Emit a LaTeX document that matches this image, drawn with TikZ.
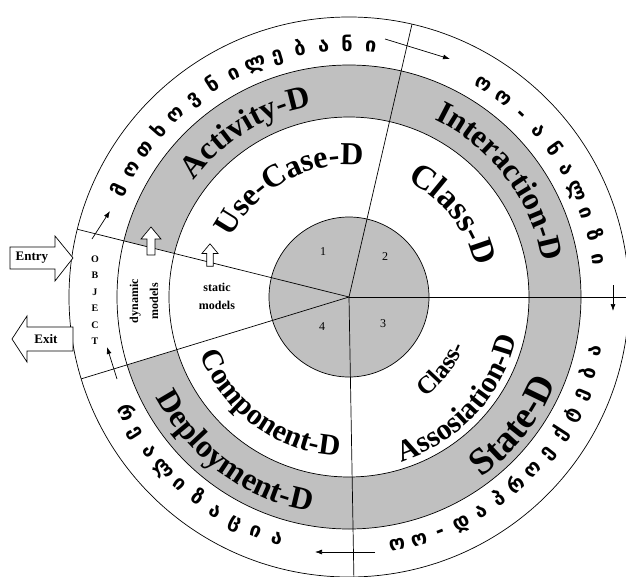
\documentclass[tikz,border=0pt]{standalone}
\usepackage{fontspec}
\setmainfont{Liberation Serif}
\newfontfamily\geofont{DejaVu Sans}
\usetikzlibrary{decorations.text,arrows.meta}
\definecolor{ringgray}{RGB}{192,192,192}
\newcommand{\LfA}{\bfseries\fontsize{32}{36}\selectfont}
\newcommand{\LfB}{\bfseries\fontsize{30}{34}\selectfont}
\newcommand{\LfC}{\bfseries\fontsize{38}{42}\selectfont}
\newcommand{\LfD}{\bfseries\fontsize{25}{30}\selectfont}
\newcommand{\LfE}{\bfseries\fontsize{34}{38}\selectfont}
\newcommand{\geoarc}[6]{%
  \foreach \ch [count=\i from 0] in {#6} {%
    \pgfmathsetmacro\ang{#2+\i*(#3)}%
    \node[geo, rotate=\ang#5, anchor=base] (#1-\i) at (\ang:#4) {\ch};%
  }}
\begin{document}
\begin{tikzpicture}[x=1pt,y=1pt,
  ln/.style={line width=0.7pt},
  geo/.style={font=\geofont\bfseries\fontsize{20}{22}\selectfont, inner sep=0pt},
  num/.style={font=\fontsize{12}{14}\selectfont, inner sep=1pt},
  small/.style={font=\bfseries\fontsize{12}{20}\selectfont, align=center, inner sep=0pt},
  arr/.style={ln, -{Latex[length=7pt,width=5pt]}},
  uparrow/.pic={\draw[ln,fill=white] (-4,-14) -- (4,-14) -- (4,2) -- (10,2) -- (0,14) -- (-10,2) -- (-4,2) -- cycle;}
]
\useasboundingbox (-349,-279) rectangle (277,297);
\clip (-349,-279) rectangle (277,297);
\fill[white] (-349,-279) rectangle (277,297);

% rings
\draw[ln, fill=white] (0,0) circle[radius=280pt];
\fill[ringgray, even odd rule] (0,0) circle[radius=232pt] (0,0) circle[radius=180pt];
\fill[white] (166:180pt) -- (166:232pt) arc[start angle=166, end angle=197, radius=232pt]
  -- (197:180pt) arc[start angle=197, end angle=166, radius=180pt] -- cycle;
\draw[ln] (0,0) circle[radius=232pt];
\draw[ln] (0,0) circle[radius=180pt];
\draw[ln, fill=ringgray] (0,0) circle[radius=80pt];

% radial lines
\coordinate (O) at (0,0);
\coordinate (rT) at (77:280pt);
\coordinate (rR) at (0:300pt);
\coordinate (rB) at (-89:300pt);
\coordinate (rLa) at (166:280pt);
\coordinate (rLb) at (197:280pt);
\draw[ln] (O) -- (rT);
\draw[ln] (O) -- (rR);
\draw[ln] (O) -- (rB);
\draw[ln] (O) -- (rLa);
\draw[ln] (O) -- (rLb);

% numbers
\node[num] (n1) at (-26,45) {1};
\node[num] (n2) at (36,40) {2};
\node[num] (n3) at (34,-27) {3};
\node[num] (n4) at (-27,-30) {4};

% English labels, top (clockwise)
\path[decorate, decoration={text along path, text align=center, text={|\LfA|Activity-D}}]
  (182:194pt) arc[start angle=182, end angle=62, radius=194pt];
\path[decorate, decoration={text along path, text align=center, text={|\LfA|Interaction-D}}]
  (107.3:197pt) arc[start angle=107.3, end angle=-32.7, radius=197pt];
\path[decorate, decoration={text along path, text align=center, text={|\LfA|Use-Case-D}}]
  (198.5:132pt) arc[start angle=198.5, end angle=38.5, radius=132pt];
\path[decorate, decoration={text along path, text align=center, text={|\LfE|Class-D}}]
  (98.5:130pt) arc[start angle=98.5, end angle=-21.5, radius=130pt];
% English labels, bottom (counter-clockwise)
\path[decorate, decoration={text along path, text align=center, text={|\LfC|State-D}}]
  (-88:224pt) arc[start angle=-88, end angle=12, radius=224pt];
\path[decorate, decoration={text along path, text align=center, text={|\LfA|Deployment-D}}]
  (163.7:218pt) arc[start angle=163.7, end angle=303.7, radius=218pt];
\path[decorate, decoration={text along path, text align=center, text={|\LfB|Component-D}}]
  (153.8:159.5pt) arc[start angle=153.8, end angle=313.8, radius=159.5pt];
\path[decorate, decoration={text along path, text align=center, text={|\LfD|Class-}}]
  (-88:126pt) arc[start angle=-88, end angle=12, radius=126pt];
\path[decorate, decoration={text along path, text align=center, text={|\LfB|Assosiation-D}}]
  (-118:173pt) arc[start angle=-118, end angle=32, radius=173pt];

% Georgian labels in outer ring
\geoarc{gtl}{155}{-5.38}{246pt}{-90}{მ,ო,თ,ხ,ო,ვ,ნ,ი,ლ,ე,ბ,ა,ნ,ი}
\geoarc{gtr}{57.6}{-5.44}{246pt}{-90}{ო,ო,-,ა,ნ,ა,ლ,ი,ზ,ი}
\geoarc{gbr}{-79}{5.12}{258pt}{+90}{ო,ო,-,დ,ა,პ,რ,ო,ე,ქ,ტ,ე,ბ,ა}
\geoarc{gbl}{207.4}{5.11}{258pt}{+90}{რ,ე,ა,ლ,ი,ზ,ა,ც,ი,ა}

% left sector texts
\node[font=\bfseries\fontsize{10}{16.5}\selectfont, align=center, inner sep=0pt] (obj) at (-254,-3) {O\\B\\J\\E\\C\\T};
\node[small, rotate=90] (dyn) at (-205,-4) {dynamic\\models};
\node[small, font=\bfseries\fontsize{12}{18}\selectfont] (sta) at (-132,1) {static\\models};

% hollow arrows on the left line
\pic at (-198,56) {uparrow};
\pic[scale=0.8] at (-139,42) {uparrow};

% Entry / Exit
\draw[ln, fill=white] (-339,50) -- (-294,50) -- (-294,61) -- (-276,39) -- (-294,16) -- (-294,28) -- (-339,28) -- cycle;
\node[font=\bfseries\fontsize{13}{15}\selectfont, inner sep=0pt] (entry) at (-317,39) {Entry};
\draw[ln, fill=white] (-276,-30) -- (-322,-30) -- (-322,-19) -- (-337,-42) -- (-322,-65) -- (-322,-54) -- (-276,-54) -- cycle;
\node[font=\bfseries\fontsize{13}{15}\selectfont, inner sep=0pt] (exit) at (-303,-42) {Exit};

% cycle arrows
\coordinate (a1s) at (36,258);   \coordinate (a1e) at (101,238);
\coordinate (a2s) at (264,12);   \coordinate (a2e) at (264,-14);
\coordinate (a3s) at (26,-255);  \coordinate (a3e) at (-34,-255);
\coordinate (a4s) at (-232,-82); \coordinate (a4e) at (-242,-50);
\coordinate (a5s) at (-257,58);  \coordinate (a5e) at (-239,86);
\draw[arr] (a1s) -- (a1e);
\draw[arr] (a2s) -- (a2e);
\draw[arr] (a3s) -- (a3e);
\draw[arr] (a4s) -- (a4e);
\draw[arr] (a5s) -- (a5e);
\end{tikzpicture}
\end{document}
